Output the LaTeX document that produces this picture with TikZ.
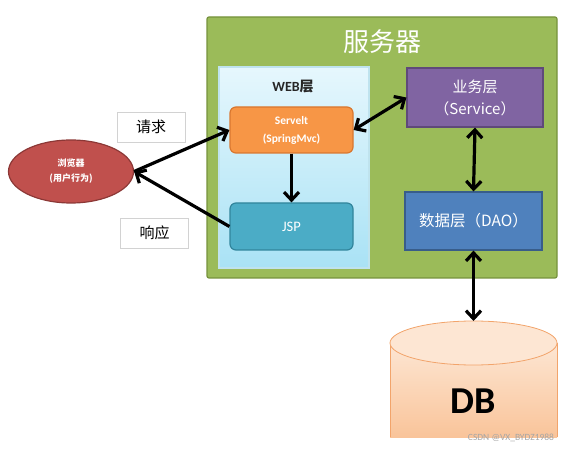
\documentclass[tikz,border=0pt]{standalone}
\usepackage{fontspec}
\setmainfont{Carlito}
\newfontfamily\cjk{Noto Sans CJK SC}
\usetikzlibrary{arrows.meta,shapes.geometric}
\definecolor{srvgreen}{HTML}{9BBB59}
\definecolor{srvedge}{HTML}{76923C}
\definecolor{webtop}{HTML}{E6F7FD}
\definecolor{webbot}{HTML}{A9E2F5}
\definecolor{webedge}{HTML}{BFE3EE}
\definecolor{mvcfill}{HTML}{F79646}
\definecolor{mvcedge}{HTML}{D9772F}
\definecolor{jspfill}{HTML}{4BACC6}
\definecolor{jspedge}{HTML}{31859C}
\definecolor{svcfill}{HTML}{8064A2}
\definecolor{svcedge}{HTML}{5F497A}
\definecolor{daofill}{HTML}{4F81BD}
\definecolor{daoedge}{HTML}{385D8A}
\definecolor{brwfill}{HTML}{C0504D}
\definecolor{brwedge}{HTML}{8C3836}
\definecolor{dbtop}{HTML}{FDE6D3}
\definecolor{dbbot}{HTML}{F9C49A}
\definecolor{dbedge}{HTML}{F2A46B}

\begin{document}
\begin{tikzpicture}[x=1pt, y=1pt, yscale=-1,
  box/.style={draw, line width=1.2pt, text=white, align=center, inner sep=0pt},
  rbox/.style={box, rounded corners=6pt},
  tag/.style={draw=gray!35, fill=white, line width=0.8pt, minimum width=68pt, minimum height=30pt, font=\cjk\fontsize{15}{16}\selectfont},
  link/.style={line width=3.2pt, -{Straight Barb[length=8pt,width=15pt]}},
  link2/.style={line width=3.2pt, {Straight Barb[length=8pt,width=15pt]}-{Straight Barb[length=8pt,width=15pt]}}]
\useasboundingbox (0,0) rectangle (571,449);

\node[box, fill=srvgreen, draw=srvedge, rounded corners=2pt, minimum width=350pt, minimum height=261pt] (server) at (382,147.5) {};
\node[text=white, font=\cjk\fontsize{26}{28}\selectfont] (title) at (382,42) {服务器};
\node[box, top color=webtop, bottom color=webbot, draw=webedge, minimum width=150pt, minimum height=201pt] (web) at (294,167.5) {};
\node[text=black!85, font=\bfseries\fontsize{14}{16}\selectfont] (webtitle) at (293,87) {WEB{\cjk\bfseries 层}};

\node[rbox, fill=mvcfill, draw=mvcedge, minimum width=123pt, minimum height=46pt, font=\bfseries\fontsize{11.5}{18}\selectfont] (mvc) at (291.5,130) {Servelt\\(SpringMvc)};
\node[rbox, fill=jspfill, draw=jspedge, minimum width=123pt, minimum height=47pt, font=\fontsize{14.5}{16}\selectfont] (jsp) at (291.5,226.5) {JSP};
\node[box, fill=svcfill, draw=svcedge, minimum width=136pt, minimum height=59pt, font=\cjk\fontsize{15}{22}\selectfont] (svc) at (475,97.5) {业务层\\（Service）};
\node[box, fill=daofill, draw=daoedge, minimum width=137pt, minimum height=58pt, font=\cjk\fontsize{15.5}{18}\selectfont] (dao) at (473.5,221) {数据层（DAO）};

\node[box, ellipse, fill=brwfill, draw=brwedge, minimum width=125pt, minimum height=63pt, font=\cjk\bfseries\fontsize{9}{15}\selectfont] (browser) at (71,171.5) {浏览器\\(用户行为)};
\node[tag] (req) at (151,127) {请求};
\node[tag] (resp) at (154.5,233) {响应};

\fill[top color=dbtop, bottom color=dbbot] (390,343) rectangle (557,437);
\draw[dbedge, line width=0.8pt] (390,343) -- (390,437) (557,343) -- (557,437);
\draw[dbedge, line width=0.8pt, fill=dbtop] (473.5,343) ellipse[x radius=83.5, y radius=22];
\node[font=\bfseries\fontsize{38}{40}\selectfont] (db) at (473.5,401) {DB};
\coordinate (dbtopc) at (473.5,321);
\node[text=gray!70, font=\fontsize{9.5}{10}\selectfont] (mark) at (511,438) {CSDN @VX\_BYDZ1988};

\draw[link] (browser.east) -- (mvc.west);
\draw[link] (jsp.west) -- (browser.east);
\draw[link] (mvc.south) -- (jsp.north);
\draw[link2] (mvc.east) -- (svc.west);
\draw[link2] (svc.south) -- (dao.north);
\draw[link2] (dao.south) -- (dbtopc);

\end{tikzpicture}
\end{document}
